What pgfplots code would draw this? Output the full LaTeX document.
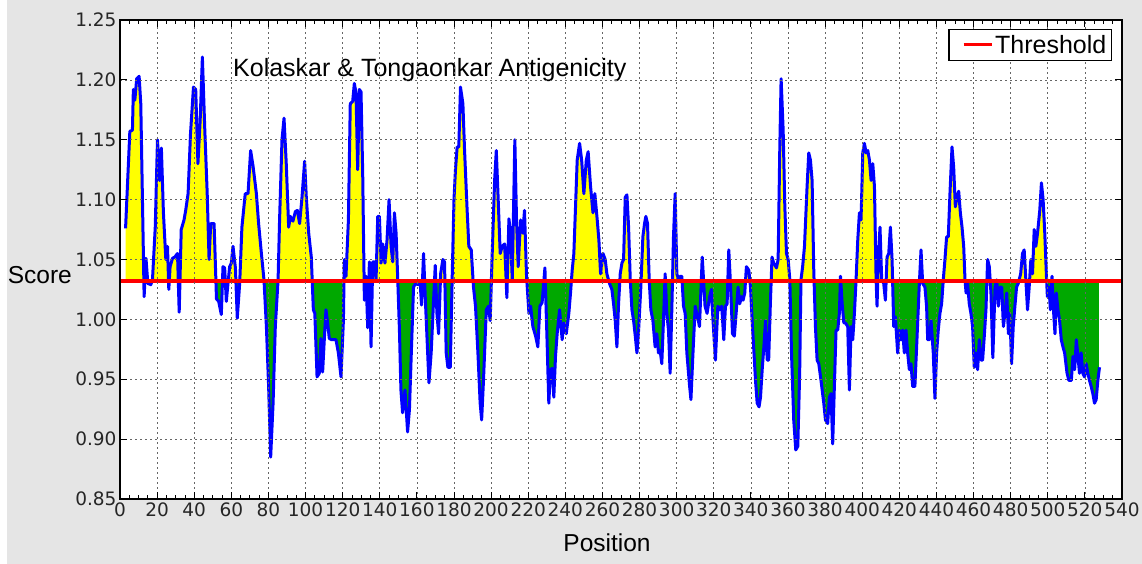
\documentclass[border=0pt]{standalone}
\usepackage{pgfplots}
\pgfplotsset{compat=1.18}
\usepackage{pgfplotstable}
\usepackage{fontspec}
\setmainfont{Liberation Sans}
\newfontfamily\dejavu{DejaVu Sans}
\definecolor{bggray}{RGB}{229,229,229}
\definecolor{kgreen}{RGB}{0,168,0}
\definecolor{kblue}{RGB}{0,0,255}
\definecolor{kred}{RGB}{255,0,0}
\definecolor{kyellow}{RGB}{255,255,0}

\pgfplotstableread{
x y
3 1.076
5.3 1.157
6.7 1.158
7.2 1.192
8 1.183
9 1.201
10.3 1.203
11.2 1.180
13 1.019
14 1.051
15 1.030
16.6 1.029
17.5 1.033
19 1.077
20.2 1.150
21.4 1.116
22.3 1.143
23.4 1.089
24.7 1.050
25.6 1.061
26.3 1.025
27 1.044
28.3 1.051
29.5 1.052
31 1.055
31.9 1.006
33 1.075
34.5 1.083
35.4 1.091
36.7 1.105
38 1.155
39.6 1.194
40.8 1.192
42 1.130
43.2 1.166
44.4 1.219
45.7 1.158
47 1.105
48 1.050
48.9 1.080
50.7 1.080
52 1.017
53.2 1.015
54.6 1.004
55.5 1.044
56.4 1.043
57.3 1.015
58.2 1.030
59.1 1.044
60 1.047
60.9 1.061
62.2 1.043
63.2 1.001
64.5 1.030
65.7 1.077
67.5 1.105
69 1.105
70.4 1.141
71.7 1.128
73.5 1.105
74.7 1.080
76.2 1.055
77.6 1.033
78.9 0.994
80.1 0.944
81.2 0.885
82.5 0.930
83.7 0.994
85.2 1.033
86 1.083
87.3 1.150
88.4 1.168
89.6 1.130
90.9 1.077
91.8 1.086
93.2 1.082
94.5 1.090
95.6 1.091
96.8 1.080
98.1 1.102
99.5 1.132
100.4 1.102
101.7 1.072
103.1 1.052
104.2 1.008
105 1.005
106.2 0.952
107.4 0.955
108.3 0.984
109.2 0.956
110.1 0.983
111 1.008
111.9 0.997
112.8 0.984
114 0.983
116.4 0.983
117.7 0.972
119.1 0.952
120.4 0.999
120.9 1.050
121.8 1.036
123.1 1.083
124.1 1.180
125.4 1.182
126.3 1.197
127.2 1.189
128.1 1.125
129 1.192
129.9 1.190
130.8 1.122
131.7 1.016
132.6 1.036
133.5 0.993
134.4 1.048
135.3 0.977
136.2 1.048
137.1 1.048
138 1.033
138.9 1.086
139.8 1.086
140.7 1.047
141.6 1.063
142.8 1.047
143.9 1.066
145 1.100
146.1 1.061
147 1.048
147.9 1.089
148.8 1.072
149.7 1.033
150.6 0.991
151.4 0.941
152.3 0.922
153.6 0.941
155 0.906
156 0.925
157 0.972
158.2 1.027
159.3 1.030
160.5 1.029
161.8 1.030
162.5 1.012
163.6 1.055
164.5 1.019
165.4 0.987
166.5 0.947
167.7 0.972
169 1.016
169.9 1.045
170.8 1.005
171.7 0.988
172.8 1.038
174 1.050
174.9 1.048
175.8 0.972
176.7 0.960
178 0.960
179 1.033
180 1.100
180.8 1.125
181.7 1.144
182.6 1.144
183.5 1.194
184.8 1.180
185.7 1.141
187 1.094
188 1.061
189.3 1.058
190.5 1.027
191.6 1.011
192.9 0.972
194.1 0.930
194.9 0.916
195.9 0.949
197.4 1.008
198.6 1.011
199.5 0.999
200.6 1.055
201.9 1.116
202.8 1.141
203.7 1.105
204.9 1.055
206 1.061
207.3 1.063
208.5 1.018
209.6 1.084
210.5 1.072
211.4 1.033
212.8 1.150
213.7 1.083
214.6 1.044
215.9 1.083
217.1 1.072
218 1.091
219.1 1.036
220.4 1.005
221.3 1.011
222.5 0.994
224 0.986
225.2 0.977
226.3 1.011
227.5 1.014
229 1.043
230.2 0.980
231.1 0.930
232 0.958
232.9 0.959
233.8 0.935
234.7 0.969
235.6 0.988
236.9 1.008
238.3 0.983
239.2 0.997
240.5 0.988
241.9 1.005
242.8 1.022
243.7 1.041
244.6 1.055
245.5 1.094
246.4 1.133
247.7 1.147
248.8 1.133
250 1.105
251.3 1.133
252.3 1.140
253.6 1.111
254.9 1.089
255.9 1.105
257.2 1.083
258.1 1.066
259 1.038
260.3 1.055
261.5 1.050
262.4 1.038
263.8 1.030
265.1 1.025
266 1.013
266.9 0.999
267.8 0.977
268.7 1.013
269.6 1.038
270.5 1.047
271.4 1.050
272.3 1.102
273.2 1.104
274.1 1.077
275 1.033
275.9 1.008
276.8 0.999
277.7 0.986
278.6 0.972
279.5 0.991
280.7 1.027
281.8 1.069
282.7 1.080
283.4 1.086
284.3 1.080
285.2 1.033
286.1 1.008
287.2 0.999
288.4 0.977
289.3 0.988
290.2 0.972
291.1 0.974
292 0.963
292.9 0.999
293.8 1.038
294.7 1.005
295.6 0.991
296.5 0.955
297.4 1.008
298.3 1.069
299.2 1.105
300.1 1.038
301 1.033
301.9 1.036
302.8 1.036
303.7 1.011
304.6 1.005
305.5 0.972
307 0.944
307.7 0.933
308.8 0.972
310 1.011
311.3 1.002
312.3 0.994
313.8 1.052
315.3 1.011
316.4 1.005
317.8 1.019
318.7 1.025
319.6 0.999
320.9 0.966
322.2 1.011
323.2 1.008
324.3 1.011
325.4 0.983
326.3 1.011
327.2 1.013
328.1 1.058
329 1.030
330.1 0.988
331.1 0.986
332.2 1.008
333.1 1.027
334 1.013
334.9 1.019
335.8 1.016
336.7 1.022
337.6 1.044
338.9 1.041
339.8 1.027
340.7 0.999
341.6 0.974
342.5 0.949
343.4 0.930
344.4 0.927
345.2 0.935
346.1 0.958
347 0.977
347.9 0.999
348.8 0.966
349.6 0.966
350.5 1.013
351.4 1.052
352.3 1.047
353.8 1.043
354.7 1.050
355.6 1.144
356.3 1.201
357.4 1.158
358.3 1.094
359.2 1.055
360.1 1.050
361 1.033
361.9 0.972
363.1 0.916
364.2 0.891
365.3 0.894
366.3 0.955
367 1.033
367.9 1.044
368.9 1.061
370.3 1.111
371.2 1.139
372.1 1.133
373 1.116
373.9 1.041
374.8 0.994
375.7 0.966
376.6 0.963
377.8 0.949
379.3 0.930
380.2 0.916
381.4 0.913
382.3 0.935
383.2 0.938
384.1 0.896
385 0.944
385.9 0.991
386.8 0.991
387.7 1.005
388.3 1.036
389.2 1.013
390.1 0.997
391 0.997
392.2 0.994
393.1 0.941
394 0.994
394.9 0.983
395.8 1.005
396.7 1.033
397.6 1.066
398.5 1.089
399.4 1.083
400.3 1.139
401.2 1.147
402.1 1.139
403 1.141
403.9 1.133
404.8 1.116
405.7 1.130
406.6 1.111
407.5 1.033
408 1.011
408.8 1.055
409.6 1.077
410.5 1.033
411.6 1.030
412.5 1.016
413.4 1.052
414.3 1.055
415.2 1.077
416.1 1.050
417 0.994
417.9 1.002
419.1 0.972
420 0.991
420.9 0.983
421.8 0.991
422.7 0.972
423.6 0.991
424.5 0.972
425.4 0.958
426.3 0.963
427.2 0.944
428.4 0.944
429.5 0.983
430.8 1.030
431.7 1.058
432.6 1.030
433.8 1.027
434.7 1.011
435.3 0.983
436.2 0.983
437.1 0.999
438.3 0.972
439.2 0.934
440.1 0.972
441 0.991
441.9 1.005
442.8 1.013
443.7 1.033
444.6 1.050
445.5 1.069
446.4 1.069
447.3 1.105
448.4 1.144
449.3 1.127
450.2 1.094
451.1 1.102
452 1.107
452.9 1.089
453.8 1.077
454.7 1.061
455.4 1.033
456 1.022
456.8 1.030
457.7 1.013
458.6 1.005
459.5 0.994
460.4 0.960
461.3 0.972
462.2 0.958
463.1 0.983
464 0.966
464.9 0.966
465.8 0.986
466.7 1.008
467.6 1.050
468.5 1.044
469.4 1.022
470.4 0.968
471.6 1.027
472.5 1.033
473.4 1.011
474.3 1.027
475.2 1.027
476.1 0.994
477 1.005
477.9 1.022
478.8 0.988
479.6 1.005
480.5 0.963
481.4 0.994
482.3 1.011
483.2 1.027
484.1 1.030
485.4 1.038
486.4 1.055
487.3 1.058
488.2 1.033
489.1 1.008
490 1.027
490.9 1.050
491.8 1.038
492.7 1.075
493.6 1.061
494.5 1.072
495.7 1.091
496.6 1.114
497.5 1.100
498.4 1.072
499.3 1.036
499.8 1.019
500.7 1.027
501.4 1.008
502.3 1.036
503.2 1.005
503.9 0.988
504.6 1.022
505.5 1.008
506.4 0.999
507.3 0.983
508.2 0.977
509.1 0.972
510.4 0.955
511.4 0.949
512.7 0.949
513.6 0.969
514.5 0.958
515.4 0.983
516.3 0.969
517.1 0.955
518 0.972
518.9 0.955
519.8 0.952
520.7 0.963
521.6 0.955
522.5 0.949
523.4 0.944
524.3 0.938
525.2 0.930
526.1 0.933
527 0.949
527.9 0.960
}\scoredata

\pgfplotstableread{
x y
3.15 1.032
527.75 1.032
}\thrdata

\begin{document}
\begin{tikzpicture}
\path[use as bounding box] (0pt,0pt) rectangle (1142pt,564pt);
\fill[bggray] (0pt,0pt) rectangle (1142pt,564pt);
\fill[white] (0pt,0pt) rectangle (7pt,564pt);
\begin{axis}[
  at={(120pt,65pt)}, anchor=south west,
  width=1002pt, height=479pt, scale only axis,
  xmin=0, xmax=540, ymin=0.85, ymax=1.25,
  axis background/.style={fill=white},
  axis on top,
  xtick distance=20, ytick distance=0.05,
  minor x tick num=3,
  tick align=inside,
  major tick length=7pt, minor tick length=4pt,
  every tick/.style={black, line width=0.8pt},
  axis line style={black, line width=1.4pt},
  grid=major,
  grid style={black!60, line width=0.7pt, dash pattern=on 1.5pt off 3.5pt},
  /pgf/number format/assume math mode=true,
  ticklabel style={font=\dejavu\fontsize{18.5}{21}\selectfont, text=black!85},
  yticklabel style={/pgf/number format/.cd, fixed, fixed zerofill, precision=2},
  xticklabel style={/pgf/number format/.cd, fixed, precision=0},
  legend style={at={(1,1)}, anchor=north east, xshift=-10pt, yshift=-9pt,
    draw=black, line width=1.3pt, fill=white,
    font=\fontsize{25}{27}\selectfont, inner xsep=3pt, inner ysep=3.5pt},
  legend image code/.code={\path (0pt,0pt); \draw[#1, line width=3pt] (10pt,0pt) -- (38pt,0pt);},
]
\begin{scope}
\clip (axis cs:0,1.032) rectangle (axis cs:540,1.25);
\addplot[fill=kyellow, draw=none, forget plot] table[x=x,y=y] {\scoredata} \closedcycle;
\end{scope}
\begin{scope}
\clip (axis cs:0,0.85) rectangle (axis cs:540,1.032);
\addplot[fill=kgreen, draw=none, forget plot] table[x=x,y=y] {\thrdata} \closedcycle;
\addplot[fill=white, draw=none, forget plot] table[x=x,y=y] {\scoredata} \closedcycle;
\end{scope}
\addplot[kblue, line width=3pt, line join=round, forget plot] table[x=x,y=y] {\scoredata};
\addplot[kred, line width=3.2pt] coordinates {(0,1.032) (540,1.032)};
\addlegendentry{Threshold}
\node[anchor=base west, inner sep=0pt, font=\fontsize{25}{27}\selectfont] at (axis cs:60.9,1.2025) {Kolaskar \& Tongaonkar Antigenicity};
\end{axis}
\node[anchor=east, inner sep=0pt, font=\fontsize{24.5}{27}\selectfont] at (72pt,289pt) {Score};
\node[inner sep=0pt, font=\fontsize{24.5}{27}\selectfont] at (607pt,21pt) {Position};
\end{tikzpicture}
\end{document}
